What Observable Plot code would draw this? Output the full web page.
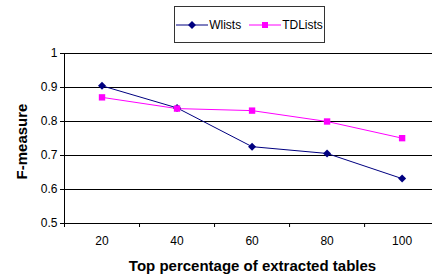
<!DOCTYPE html>
<html>
<head>
<meta charset="utf-8">
<script src="https://cdn.jsdelivr.net/npm/d3@7"></script>
<script src="https://cdn.jsdelivr.net/npm/@observablehq/plot@0.6"></script>
<style>
  html, body { margin: 0; padding: 0; background: #fff; }
  #wrap { position: relative; width: 432px; height: 278px; overflow: hidden; font-family: "Liberation Sans", Arial, sans-serif; }
  #legend { position: absolute; left: 174px; top: 6px; width: 151px; height: 37px; border: 1px solid #333; background: #fff;
    display: flex; align-items: center; justify-content: center; gap: 8px; font-size: 12px; color: #000; box-sizing: border-box; }
  #legend .item { display: flex; align-items: center; gap: 1px; }
</style>
</head>
<body>
<div id="wrap"><div id="legend"></div></div>
<script>
const categories = [20, 40, 60, 80, 100];
const wlists = [0.905, 0.840, 0.726, 0.706, 0.632];
const tdlists = [0.871, 0.838, 0.832, 0.800, 0.751];
const seriesNames = ["Wlists", "TDLists"];
const seriesColors = ["#000080", "#ff00ff"];
const seriesSymbols = ["diamond2", "square"];
const yTicks = [0.5, 0.6, 0.7, 0.8, 0.9, 1];
const xBoundaries = [10, 30, 50, 70, 90];
const xLabel = "Top percentage of extracted tables";
const yLabel = "F-measure";

const data = [];
categories.forEach((c, i) => {
  data.push({x: c, y: wlists[i], s: seriesNames[0]});
  data.push({x: c, y: tdlists[i], s: seriesNames[1]});
});

const chart = Plot.plot({
  width: 432,
  height: 278,
  marginLeft: 64,
  marginRight: 0,
  marginTop: 53,
  marginBottom: 55,
  style: {fontFamily: "Liberation Sans, Arial, sans-serif", fontSize: "12px", color: "#000", background: "#fff"},
  x: {domain: [10, 108.1]},
  y: {domain: [0.5, 1]},
  color: {domain: seriesNames, range: seriesColors},
  symbol: {domain: seriesNames, range: seriesSymbols},
  marks: [
    Plot.ruleY(yTicks, {stroke: "#000", strokeWidth: 1}),
    Plot.ruleX([10], {stroke: "#000", strokeWidth: 1}),
    Plot.axisY(yTicks, {tickSize: 4, tickPadding: 3, tickFormat: d => String(d), label: null, stroke: "#000"}),
    Plot.axisX(xBoundaries, {tickSize: 4, tickFormat: () => "", label: null, stroke: "#000"}),
    Plot.axisX(categories, {tickSize: 0, tickPadding: 13, label: null}),
    Plot.line(data, {x: "x", y: "y", z: "s", stroke: "s", strokeWidth: 1}),
    Plot.dot(data, {x: "x", y: "y", symbol: "s", fill: "s", stroke: "none", r: 3.6}),
    Plot.text([xLabel], {frameAnchor: "bottom", dx: 4, dy: 43, fontWeight: "bold", fontSize: 15, letterSpacing: 0.6, lineAnchor: "middle"}),
    Plot.text([yLabel], {frameAnchor: "left", dx: -42, dy: 3, rotate: -90, fontWeight: "bold", fontSize: 15, lineAnchor: "middle", textAnchor: "middle"})
  ]
});
document.getElementById("wrap").prepend(chart);

const legend = document.getElementById("legend");
seriesNames.forEach((name, i) => {
  const item = document.createElement("div");
  item.className = "item";
  const ns = "http://www.w3.org/2000/svg";
  const svg = document.createElementNS(ns, "svg");
  svg.setAttribute("width", 32); svg.setAttribute("height", 10);
  const line = document.createElementNS(ns, "line");
  line.setAttribute("x1", 0); line.setAttribute("x2", 32); line.setAttribute("y1", 5); line.setAttribute("y2", 5);
  line.setAttribute("stroke", seriesColors[i]); line.setAttribute("stroke-width", 1);
  svg.appendChild(line);
  const sym = document.createElementNS(ns, "path");
  const s = i === 0 ? d3.symbol(d3.symbolDiamond2, 40) : d3.symbol(d3.symbolSquare, 36);
  sym.setAttribute("d", s());
  sym.setAttribute("transform", "translate(16,5)");
  sym.setAttribute("fill", seriesColors[i]);
  svg.appendChild(sym);
  item.appendChild(svg);
  const t = document.createElement("span");
  t.textContent = name;
  item.appendChild(t);
  legend.appendChild(item);
});
</script>
</body>
</html>
